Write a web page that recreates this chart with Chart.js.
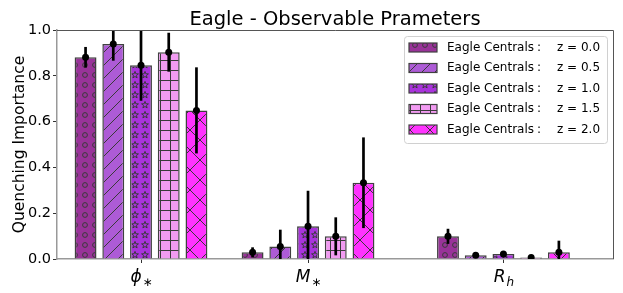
<!DOCTYPE html>
<html>
<head>
<meta charset="utf-8">
<script src="https://cdn.jsdelivr.net/npm/chart.js@4/dist/chart.umd.min.js"></script>
<style>
  body { margin: 0; background: #fff; }
</style>
</head>
<body>
<canvas id="chart" width="623" height="293"></canvas>
<script>
// categories on the x axis (main symbol + subscript) and where they sit
const labelMain = ['ϕ', 'M', 'R'];
const labelSub = ['∗', '∗', 'h'];
const groupPos = [0, 1, 2.17];

const seriesNames = ['z = 0.0', 'z = 0.5', 'z = 1.0', 'z = 1.5', 'z = 2.0'];

// quenching importance per redshift, and the error on it
const z00 = [0.881, 0.029, 0.099];
const z05 = [0.939, 0.055, 0.016];
const z10 = [0.846, 0.143, 0.022];
const z15 = [0.903, 0.099, 0.007];
const z20 = [0.649, 0.333, 0.029];

const z00Err = [0.045, 0.022, 0.033];
const z05Err = [0.073, 0.073, 0.005];
const z10Err = [0.155, 0.155, 0.006];
const z15Err = [0.085, 0.083, 0.003];
const z20Err = [0.188, 0.198, 0.051];

const yTicks = [0, 0.2, 0.4, 0.6, 0.8, 1.0];

const values = [z00, z05, z10, z15, z20];
const errors = [z00Err, z05Err, z10Err, z15Err, z20Err];
const colors = ['#993399', '#ad5bd6', '#a933dc', '#f19bf1', '#ff33ff'];
const hatches = ['o', '/', '*', '+', 'x'];
const FONT = 'DejaVu Sans';

function makeHatch(color, kind) {
  const s = kind === 'x' ? 20 : (kind === '/' ? 13 : 10);
  const c = document.createElement('canvas');
  c.width = s; c.height = s;
  const g = c.getContext('2d');
  g.fillStyle = color;
  g.fillRect(0, 0, s, s);
  g.strokeStyle = '#3a3a3a';
  g.lineWidth = 1;
  g.beginPath();
  if (kind === 'o') {
    g.arc(s / 2, s / 2, 2.4, 0, Math.PI * 2);
  } else if (kind === '/' || kind === 'x') {
    g.moveTo(-2, s + 2); g.lineTo(s + 2, -2);
    g.moveTo(-2, 2); g.lineTo(2, -2);
    g.moveTo(s - 2, s + 2); g.lineTo(s + 2, s - 2);
    if (kind === 'x') {
      g.moveTo(-2, -2); g.lineTo(s + 2, s + 2);
      g.moveTo(s - 2, -2); g.lineTo(s + 2, 2);
      g.moveTo(-2, s - 2); g.lineTo(2, s + 2);
    }
  } else if (kind === '+') {
    g.moveTo(0, 0.5); g.lineTo(s, 0.5);
    g.moveTo(0.5, 0); g.lineTo(0.5, s);
  } else if (kind === '*') {
    for (let k = 0; k < 10; k++) {
      const r = k % 2 === 0 ? 3.6 : 1.5;
      const a = -Math.PI / 2 + k * Math.PI / 5;
      const px = s / 2 + r * Math.cos(a), py = s / 2 + r * Math.sin(a);
      if (k === 0) g.moveTo(px, py); else g.lineTo(px, py);
    }
    g.closePath();
  }
  g.stroke();
  return g.createPattern(c, 'repeat');
}

const patterns = colors.map((c, i) => makeHatch(c, hatches[i]));

const datasets = values.map((v, i) => ({
  label: 'Eagle Centrals : ' + seriesNames[i],
  data: v,
  backgroundColor: patterns[i],
  borderColor: '#404040',
  borderWidth: 1.5,
  categoryPercentage: 0.83,
  barPercentage: 0.79
}));

const extras = {
  id: 'extras',
  afterDatasetsDraw(chart) {
    const ctx = chart.ctx;
    const a = chart.chartArea;
    const y = chart.scales.y;
    ctx.save();
    ctx.beginPath();
    ctx.rect(a.left, a.top, a.right - a.left, a.bottom - a.top);
    ctx.clip();
    datasets.forEach((ds, i) => {
      const meta = chart.getDatasetMeta(i);
      meta.data.forEach((bar, j) => {
        const v = values[i][j], e = errors[i][j];
        ctx.strokeStyle = '#000';
        ctx.lineWidth = 2.7;
        ctx.beginPath();
        ctx.moveTo(bar.x, y.getPixelForValue(v - e));
        ctx.lineTo(bar.x, y.getPixelForValue(v + e));
        ctx.stroke();
        ctx.fillStyle = '#000';
        ctx.beginPath();
        ctx.arc(bar.x, y.getPixelForValue(v), 3.5, 0, Math.PI * 2);
        ctx.fill();
      });
    });
    ctx.restore();
  },
  afterDraw(chart) {
    const ctx = chart.ctx;
    const a = chart.chartArea;
    const x = chart.scales.x;
    ctx.save();
    // top and right spines
    ctx.strokeStyle = '#555';
    ctx.lineWidth = 1;
    ctx.beginPath();
    ctx.moveTo(a.left, a.top + 0.5); ctx.lineTo(a.right + 0.5, a.top + 0.5);
    ctx.lineTo(a.right + 0.5, a.bottom);
    ctx.stroke();

    // title
    ctx.fillStyle = '#000';
    ctx.font = '19.5px "' + FONT + '"';
    ctx.textAlign = 'center';
    ctx.textBaseline = 'alphabetic';
    ctx.fillText('Eagle - Observable Prameters', (a.left + a.right) / 2, 25);

    // x tick labels with subscripts
    groupPos.forEach((p, i) => {
      const px = x.getPixelForValue(p);
      ctx.font = 'italic 17px "' + FONT + '"';
      const wMain = ctx.measureText(labelMain[i]).width;
      const sub = labelSub[i];
      const subFont = sub === 'h' ? 'italic 12px "' + FONT + '"' : '12px "' + FONT + '"';
      ctx.font = subFont;
      const wSub = ctx.measureText(sub).width;
      const x0 = px - (wMain + wSub) / 2;
      ctx.textAlign = 'left';
      ctx.font = 'italic 17px "' + FONT + '"';
      ctx.fillText(labelMain[i], x0, 282);
      ctx.font = subFont;
      ctx.fillText(sub, x0 + wMain + 1, 286);
    });

    // legend
    const lx = 404, ly = 36, lw = 203, lh = 107;
    ctx.fillStyle = 'rgba(255,255,255,0.85)';
    ctx.strokeStyle = '#d0d0d0';
    ctx.lineWidth = 1;
    ctx.beginPath();
    ctx.roundRect(lx + 0.5, ly + 0.5, lw, lh, 3);
    ctx.fill();
    ctx.stroke();
    datasets.forEach((ds, i) => {
      const cy = 47.5 + i * 20.5;
      ctx.fillStyle = patterns[i];
      ctx.fillRect(409, cy - 4.5, 28, 9);
      ctx.strokeStyle = '#404040';
      ctx.lineWidth = 1.2;
      ctx.strokeRect(409, cy - 4.5, 28, 9);
      ctx.fillStyle = '#000';
      ctx.font = '12px "' + FONT + '"';
      ctx.textAlign = 'left';
      ctx.textBaseline = 'middle';
      ctx.fillText('Eagle Centrals', 447, cy);
      const w = ctx.measureText('Eagle Centrals').width;
      ctx.fillText(':', 447 + w + 3, cy);
      ctx.fillText(seriesNames[i], 557, cy);
    });
    ctx.restore();
  }
};

new Chart(document.getElementById('chart'), {
  type: 'bar',
  data: { labels: groupPos, datasets: datasets },
  options: {
    responsive: false,
    animation: false,
    layout: { padding: { top: 30, right: 10, left: 0, bottom: 0 } },
    plugins: { legend: { display: false }, title: { display: false }, tooltip: { enabled: false } },
    scales: {
      x: {
        type: 'linear',
        offset: false,
        min: -0.503,
        max: 2.826,
        afterBuildTicks: s => { s.ticks = groupPos.map(v => ({ value: v })); },
        afterFit: s => { s.height = 34; },
        ticks: { display: false },
        grid: { offset: false, drawOnChartArea: false, drawTicks: true, tickLength: 4, color: '#333' },
        border: { color: '#999', width: 1.5 }
      },
      y: {
        min: 0,
        max: 1,
        afterBuildTicks: s => { s.ticks = yTicks.map(v => ({ value: v })); },
        afterFit: s => { s.width = 57; },
        ticks: {
          callback: v => Number(v).toFixed(1),
          color: '#000',
          padding: 2,
          font: { family: FONT, size: 14.5 }
        },
        grid: { drawOnChartArea: false, drawTicks: true, tickLength: 4, color: '#333' },
        border: { color: '#999', width: 1.5 },
        title: {
          display: true,
          text: 'Quenching Importance',
          color: '#000',
          font: { family: FONT, size: 15.5 },
          padding: { top: 11, bottom: 0 }
        }
      }
    }
  },
  plugins: [extras]
});
</script>
</body>
</html>
